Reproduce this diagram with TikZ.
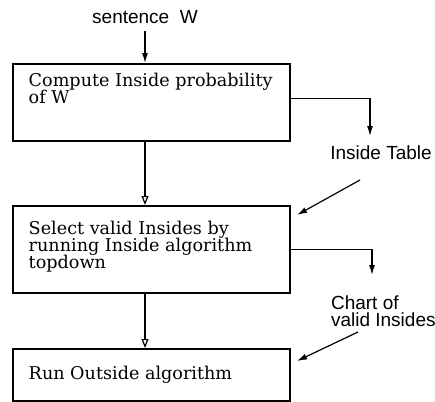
\documentclass[tikz,border=0pt]{standalone}
\usepackage{fontspec}
\setmainfont{DejaVu Serif}
\newfontfamily\labelfont{Liberation Sans}
\usetikzlibrary{arrows.meta}
\tikzstyle{label-node}=[font=\labelfont\fontsize{9.5}{8.5}\selectfont]
\tikzstyle{step-node}=[draw=black,line width=0.75pt,anchor=north west,inner xsep=4pt,font=\fontsize{8.8}{8.7}\selectfont]
\tikzstyle{black-line}=[draw=black,line width=0.6pt]
\tikzstyle{open-arrow}=[-{Triangle[open,length=4.5pt,width=3.5pt]}]
\newcommand{\steptext}[2]{\parbox[c][#1][t]{130.5pt}{\raggedright\leftskip=4pt #2}}

\begin{document}
\begin{tikzpicture}[x=0.5pt,y=-0.5pt]
        \useasboundingbox (0,0) rectangle (435,402);

        \begin{scope}
            \node (sentence)[label-node] at (145,17) {sentence\ \ W};
            \node (compute)[step-node,inner ysep=4.5pt] at (12,63) {\steptext{29.5pt}{Compute Inside probability\\of W}};
            \node (select)[step-node,inner ysep=7.5pt] at (12,205) {\steptext{28.5pt}{Select valid Insides by\\running Inside algorithm\\topdown}};
            \node (outside)[step-node,inner ysep=8.5pt] at (12,348) {\steptext{9pt}{Run Outside algorithm}};
            \node (table)[label-node] at (381,153) {Inside Table};
            \node (chart)[label-node,align=left,anchor=north west] at (324,289) {Chart of\\valid Insides};
            \coordinate (table-drop) at (370,136);
            \coordinate (table-from) at (360,180);
            \coordinate (table-to) at (297,215);
            \coordinate (chart-drop) at (372,275);
            \coordinate (chart-from) at (358,332);
            \coordinate (chart-to) at (297,361);
        \end{scope}

        \begin{scope}[>={Latex[length=5pt,width=3pt]}, every edge/.style=black-line]
            \path [->] (sentence) edge node {} (sentence |- compute.north);
            \path [open-arrow] (compute.south -| sentence) edge node {} (select.north -| sentence);
            \path [open-arrow] (select.south -| sentence) edge node {} (outside.north -| sentence);
            \path [->] ([yshift=2pt]compute.east) edge [to path={-| (\tikztotarget)}] (table-drop);
            \path [->] (select.east) edge [to path={-| (\tikztotarget)}] (chart-drop);
            \path [->] (table-from) edge node {} (table-to);
            \path [->] (chart-from) edge node {} (chart-to);
        \end{scope}

    \end{tikzpicture}
\end{document}
